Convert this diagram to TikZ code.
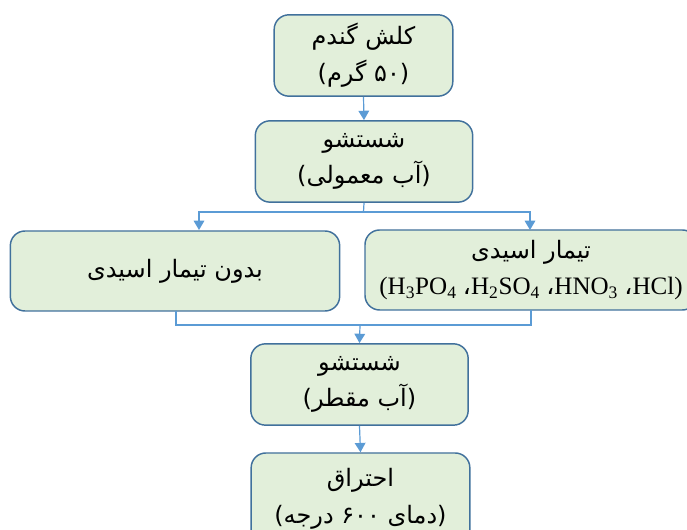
\documentclass[tikz,border=0pt]{standalone}
\usepackage{fontspec}
\setmainfont{Liberation Serif}
\newfontfamily\farsi[Script=Arabic]{DejaVu Sans}
\TeXXeTstate=1
\usetikzlibrary{arrows.meta}

\definecolor{stagefill}{RGB}{226,239,218}
\definecolor{stageline}{RGB}{65,113,156}
\definecolor{flowline}{RGB}{91,155,213}

\newcommand{\fa}[1]{{\farsi\beginR #1\endR}}

\tikzset{
  stage/.style={draw=stageline, line width=1.1pt, fill=stagefill, rounded corners=11pt,
    align=center, inner sep=0pt, font=\fontsize{18}{27.5}\selectfont},
  flow/.style={draw=flowline, line width=0.9pt},
  flowarr/.style={flow, -{Triangle[length=7pt,width=8pt]}}
}

\begin{document}
\begin{tikzpicture}[x=0.75pt,y=0.75pt,yscale=-1,xscale=1]
\path[use as bounding box, clip] (0,0) rectangle (687,530);

%Rounded Rect: straw
\node[stage, minimum width=134pt, minimum height=61pt] (straw) at (363.5,55.5)
  {\fa{کلش گندم}\\\fa{(۵۰ گرم)}};
%Rounded Rect: first wash
\node[stage, minimum width=163pt, minimum height=61pt] (washA) at (364,161.5)
  {\fa{شستشو}\\\fa{(آب معمولی)}};
%Rounded Rect: no acid
\node[stage, minimum width=247pt, minimum height=60pt] (noacid) at (175,271)
  {\fa{بدون تیمار اسیدی}};
%Rounded Rect: acid
\node[stage, minimum width=249pt, minimum height=60pt] (acid) at (531,270)
  {\fa{تیمار اسیدی}\\{\fontsize{18.8}{27}\selectfont(H\textsubscript{3}PO\textsubscript{4} {\farsi ،}H\textsubscript{2}SO\textsubscript{4} {\farsi ،}HNO\textsubscript{3} {\farsi ،}HCl)}};
%Rounded Rect: second wash
\node[stage, minimum width=163pt, minimum height=61pt] (washB) at (359.5,384.5)
  {\fa{شستشو}\\\fa{(آب مقطر)}};
%Rounded Rect: burning
\node[stage, minimum width=164pt, minimum height=69pt] (burn) at (360.5,499)
  {\fa{احتراق}\\\fa{(دمای ۶۰۰ درجه)}};

\coordinate (split) at (363.5,212);
\coordinate (inA) at (199,230);
\coordinate (inB) at (530,230);
\coordinate (outA) at (176,311);
\coordinate (outB) at (531,310);
\coordinate (join) at (360,325);

%Straight Lines
\draw[flowarr] (straw.south) -- (washA.north);
\draw[flow] (washA.south) -- (split);
\draw[flowarr] (split) -| (inA);
\draw[flowarr] (split) -| (inB);
\draw[flow] (outA) |- (join) -| (outB);
\draw[flowarr] (join) -- (washB.north);
\draw[flowarr] (washB.south) -- (burn.north);

\end{tikzpicture}
\end{document}
